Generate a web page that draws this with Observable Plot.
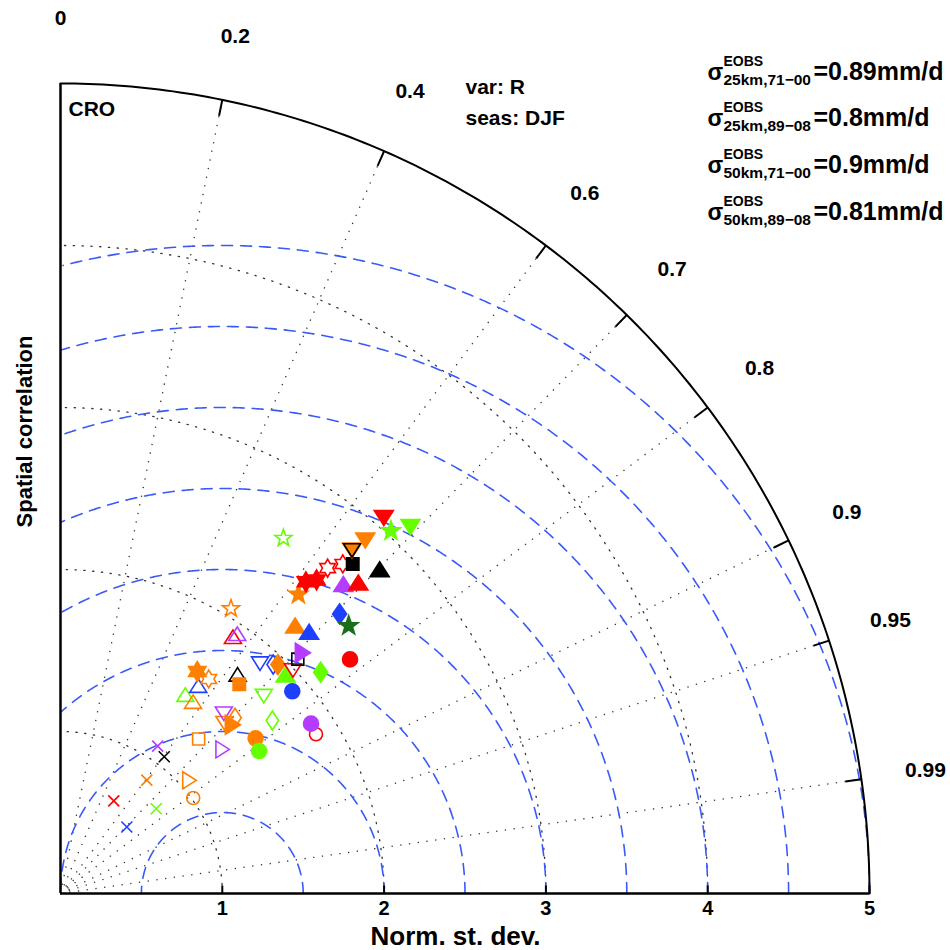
<!DOCTYPE html>
<html><head><meta charset="utf-8">
<script src="https://cdn.jsdelivr.net/npm/d3@7"></script>
<script src="https://cdn.jsdelivr.net/npm/@observablehq/plot@0.6"></script>
<style>html,body{margin:0;padding:0;background:#fff}#chart svg{display:block}</style>
</head><body><div id="chart"></div>
<script>
// ---- labels ----
const regionLabel = "CRO";
const varLabel = "var: R";
const seasLabel = "seas: DJF";
const xLabel = "Norm. st. dev.";
const yLabel = "Spatial correlation";

// ---- axes / grid values ----
const sdTicks = [1, 2, 3, 4, 5];
const corrTicks = [0, 0.2, 0.4, 0.6, 0.7, 0.8, 0.9, 0.95, 0.99];
const corrLines = [0.2, 0.4, 0.6, 0.7, 0.8, 0.9, 0.95, 0.99];
const sdCircles = [1, 2, 3, 4];
const rmsCircles = [0.5, 1, 1.5, 2, 2.5, 3, 3.5, 4];
const sdMax = 5;

// ---- reference std devs ----
const refNames = ["25km,71\u221200", "25km,89\u221208", "50km,71\u221200", "50km,89\u221208"];
const refSigma = ["0.89", "0.8", "0.9", "0.81"];

// ---- model points (normalised std dev, spatial correlation) ----
const modelSd = [0.58,0.66,0.79,0.88,1.09,1.06,1.01,1.06,1.28,1.34,
  1.54,1.51,1.86,1.87,1.69,1.46,1.50,1.53,1.49,1.45,
  1.44,1.54,1.61,1.61,1.74,1.70,1.75,1.90,1.88,1.93,
  1.95,1.94,1.99,2.11,2.06,2.11,2.30,1.91,1.94,2.05,
  2.20,2.23,2.44,2.43,2.36,2.45,2.50,2.59,2.66,2.60,
  2.68,2.72,2.81,2.78,2.78,2.88,2.59,3.06,3.03,3.13];
const modelCorr = [0.707,0.499,0.749,0.606,0.551,0.605,0.812,0.752,0.667,0.748,
  0.783,0.813,0.849,0.828,0.775,0.694,0.673,0.705,0.715,0.532,
  0.569,0.553,0.525,0.569,0.629,0.650,0.718,0.754,0.656,0.681,
  0.689,0.717,0.722,0.762,0.712,0.710,0.778,0.558,0.563,0.514,
  0.659,0.689,0.707,0.733,0.623,0.619,0.633,0.675,0.692,0.635,
  0.651,0.664,0.702,0.648,0.648,0.654,0.532,0.653,0.674,0.691];
const modelColor = ["blue","red","green","orange","purple","black","orange","orange","orange","purple",
  "orange","green","red","purple","green","orange","purple","orange","orange","green",
  "orange","blue","orange","orange","black","orange","green","blue","blue","blue",
  "orange","green","red","green","black","purple","red","red","purple","orange",
  "orange","blue","blue","darkgreen","orange","red","red","purple","red","red",
  "red","black","black","orange","black","orange","green","red","green","green"];
const modelMarker = ["x","x","x","x","x","x","o",">","s",">",
  "o","o","o","o","d","v","v","d",">","^",
  "^","^","h","h","^","s","v","o","v","d",
  "d","^","v","d","s",">","o","^","^","p",
  "^","^","d","p","p","h","h","^","^","h",
  "h","s","^","v","v","v","p","v","p","v"];
const modelFilled = [0,0,0,0,0,0,0,0,0,0,
  1,1,0,1,0,0,0,0,1,0,
  0,0,1,0,0,1,0,1,0,0,
  1,1,0,1,0,1,1,0,0,0,
  1,1,1,1,1,1,1,1,1,0,
  0,1,1,1,0,1,0,1,1,1];

const palette = {red:"#ff0000", green:"#66ff00", blue:"#1f3fff", orange:"#ff8000",
  purple:"#b43cff", black:"#000000", darkgreen:"#1b6e1b"};

const FONT = "'Liberation Sans', Arial, Helvetica, sans-serif";

// ---- marker shapes ----
function shape(kind, filled) {
  return {draw(ctx) {
    const f = filled;
    if (kind === "o") { const s = f ? 7.5 : 6.5; ctx.moveTo(s, 0); ctx.arc(0, 0, s, 0, 2 * Math.PI); }
    else if (kind === "s") { const s = f ? 6.2 : 6; ctx.rect(-s, -s, 2 * s, 2 * s); }
    else if (kind === "d") { const w = f ? 7 : 6.2, h = f ? 10 : 9.5;
      ctx.moveTo(0, -h); ctx.lineTo(w, 0); ctx.lineTo(0, h); ctx.lineTo(-w, 0); ctx.closePath(); }
    else if (kind === "^" || kind === "v" || kind === ">") {
      const w = f ? 9.5 : 8.5, h = f ? 15 : 13.5;
      let pts = [[0, -h / 2], [w, h / 2], [-w, h / 2]];
      if (kind === "v") pts = pts.map(([x, y]) => [x, -y]);
      if (kind === ">") pts = pts.map(([x, y]) => [-y, x]);
      ctx.moveTo(...pts[0]); ctx.lineTo(...pts[1]); ctx.lineTo(...pts[2]); ctx.closePath(); }
    else if (kind === "p" || kind === "h") {
      const n = kind === "p" ? 5 : 6;
      const R = f ? 10 : 9, r = kind === "p" ? R * 0.40 : R * 0.577;
      for (let k = 0; k < 2 * n; k++) {
        const a = -Math.PI / 2 + k * Math.PI / n, rr = k % 2 ? r : R;
        const x = rr * Math.cos(a), y = rr * Math.sin(a);
        k ? ctx.lineTo(x, y) : ctx.moveTo(x, y);
      }
      ctx.closePath(); }
    else if (kind === "x") { const s = 5.5;
      ctx.moveTo(-s, -s); ctx.lineTo(s, s); ctx.moveTo(s, -s); ctx.lineTo(-s, s); }
  }};
}
const symbolCache = {};
const getSymbol = (k, f) => symbolCache[k + f] ??= shape(k, !!f);

const models = modelSd.map((sd, i) => ({
  sd, corr: modelCorr[i], color: palette[modelColor[i]], marker: modelMarker[i], filled: modelFilled[i]
}));

// ---- grid geometry ----
const quarter = d3.range(0, 90.001, 0.5).map(a => a * Math.PI / 180);
const arcPts = r => quarter.map(t => ({x: r * Math.cos(t), y: r * Math.sin(t), r}));
const sdArcs = sdCircles.flatMap(arcPts);
const outerArc = arcPts(sdMax);
const rmsArcs = rmsCircles.flatMap(r => d3.range(0, 180.001, 0.25).map(a => {
  const t = a * Math.PI / 180; return {x: 1 + r * Math.cos(t), y: r * Math.sin(t), r};
}).filter(p => p.x >= -1e-9 && p.x * p.x + p.y * p.y <= sdMax * sdMax + 1e-6));
const sinOf = c => Math.sqrt(1 - c * c);

const txt = {fontFamily: FONT, fontWeight: "bold", fill: "black"};

const legendMarks = refNames.flatMap((name, i) => {
  const base = -4 + i * 46.7;
  const common = {...txt, frameAnchor: "top-left", textAnchor: "start", lineAnchor: "bottom"};
  return [
    Plot.text(["\u03c3"], {...common, text: d => d, dx: 647, dy: base, fontSize: 23}),
    Plot.text(["EOBS"], {...common, text: d => d, dx: 663, dy: base - 14, fontSize: 14}),
    Plot.text([name], {...common, text: d => d, dx: 663, dy: base + 5, fontSize: 15.5}),
    Plot.text(["=" + refSigma[i] + "mm/d"], {...common, text: d => d, dx: 753, dy: base, fontSize: 25})
  ];
});

const chart = Plot.plot({
  width: 950, height: 950,
  marginLeft: 60, marginRight: 81, marginTop: 83, marginBottom: 57,
  x: {domain: [0, sdMax], axis: null},
  y: {domain: [0, sdMax], axis: null},
  color: {type: "identity"},
  style: {background: "white"},
  marks: [
    // dotted std-dev arcs
    Plot.line(sdArcs, {x: "x", y: "y", z: "r", stroke: "#333", strokeWidth: 1.3, strokeDasharray: "1.3,7.5"}),
    // dotted correlation rays
    Plot.link(corrLines, {x1: 0, y1: 0, x2: c => sdMax * c, y2: c => sdMax * sinOf(c),
      stroke: "#333", strokeWidth: 1.3, strokeDasharray: "1.3,7.5"}),
    // dashed RMS circles
    Plot.line(rmsArcs, {x: "x", y: "y", z: "r", stroke: "#3a5af8", strokeWidth: 1.6, strokeDasharray: "11,8"}),
    // outer arc and axes
    Plot.line(outerArc, {x: "x", y: "y", stroke: "black", strokeWidth: 2}),
    Plot.ruleX([0], {y1: 0, y2: sdMax, stroke: "black", strokeWidth: 2.5}),
    Plot.ruleY([0], {x1: 0, x2: sdMax, stroke: "black", strokeWidth: 2.5}),
    // correlation ticks
    Plot.link(corrLines, {x1: c => (sdMax - 0.1) * c, y1: c => (sdMax - 0.1) * sinOf(c),
      x2: c => sdMax * c, y2: c => sdMax * sinOf(c), stroke: "black", strokeWidth: 2}),
    // std-dev ticks
    Plot.link(sdTicks, {x1: d => d, x2: d => d, y1: 0, y2: 0.05, stroke: "black", strokeWidth: 2}),
    Plot.text(sdTicks, {...txt, x: d => d, y: 0, dy: 15, text: d => String(d), fontSize: 20}),
    Plot.text(corrTicks, {...txt, x: c => 5.4 * c, y: c => 5.4 * sinOf(c), text: c => String(c), fontSize: 21}),
    // model points
    Plot.dot(models, {
      x: d => d.sd * d.corr, y: d => d.sd * sinOf(d.corr),
      symbol: d => getSymbol(d.marker, d.filled),
      fill: d => d.filled ? d.color : "none",
      stroke: d => d.color, strokeWidth: 1.6
    }),
    // annotations
    Plot.text([regionLabel], {...txt, frameAnchor: "top-left", textAnchor: "start", lineAnchor: "bottom", dx: 8, dy: 32, text: d => d, fontSize: 21}),
    Plot.text([varLabel], {...txt, frameAnchor: "top-left", textAnchor: "start", lineAnchor: "bottom", dx: 405, dy: 10, text: d => d, fontSize: 21}),
    Plot.text([seasLabel], {...txt, frameAnchor: "top-left", textAnchor: "start", lineAnchor: "bottom", dx: 405, dy: 41, text: d => d, fontSize: 21}),
    ...legendMarks,
    Plot.text([xLabel], {...txt, frameAnchor: "bottom-left", textAnchor: "end", lineAnchor: "bottom", dx: 480, dy: 51, text: d => d, fontSize: 26}),
    Plot.text([yLabel], {...txt, frameAnchor: "left", textAnchor: "middle", rotate: -90, lineAnchor: "middle", dx: -36, dy: -57, text: d => d, fontSize: 22})
  ]
});
document.getElementById("chart").append(chart);
</script>
</body></html>
